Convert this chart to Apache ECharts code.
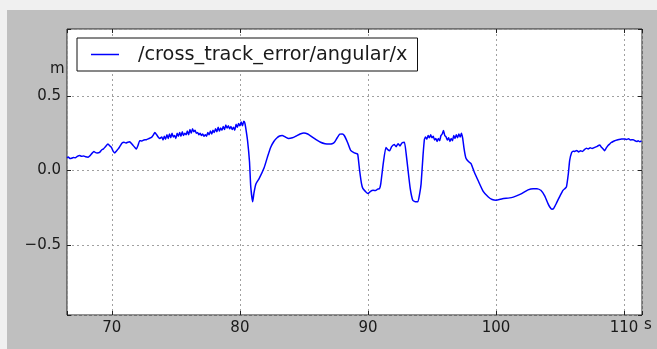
<!DOCTYPE html>
<html>
<head>
<meta charset="utf-8">
<script src="https://cdn.jsdelivr.net/npm/echarts@6/dist/echarts.min.js"></script>
<style>
html,body{margin:0;padding:0;background:#f0f0f0;width:657px;height:349px;overflow:hidden;}
#c{position:absolute;left:7px;top:10px;width:650px;height:339px;background:#bfbfbf;}
</style>
</head>
<body>
<div id="c"></div>
<script>
const seriesName = '/cross_track_error/angular/x';
const xTicks = [70, 80, 90, 100, 110];
const yTicks = [-0.5, 0.0, 0.5];
const times = [
66.5,66.6,66.75,66.85,67.0,67.15,67.3,67.5,67.65,67.8,
67.95,68.15,68.3,68.45,68.6,68.7,68.85,69.05,69.2,69.35,
69.5,69.7,69.85,69.97,70.1,70.23,70.35,70.5,70.65,70.8,
70.95,71.1,71.25,71.4,71.55,71.67,71.8,71.92,72.05,72.18,
72.35,72.5,72.7,72.9,73.1,73.25,73.36,73.5,73.65,73.75,
73.9,74.0,74.1,74.2,74.3,74.4,74.5,74.6,74.7,74.8,
74.9,75.0,75.1,75.2,75.3,75.4,75.5,75.6,75.7,75.8,
75.9,76.0,76.1,76.2,76.3,76.4,76.5,76.6,76.7,76.8,
76.9,77.0,77.1,77.2,77.3,77.4,77.5,77.6,77.7,77.8,
77.9,78.0,78.1,78.2,78.3,78.4,78.5,78.6,78.7,78.8,
78.9,79.0,79.1,79.2,79.3,79.4,79.5,79.6,79.7,79.8,
79.9,80.0,80.1,80.2,80.3,80.38,80.45,80.6,80.75,80.85,
81.0,81.1,81.25,81.5,81.9,82.15,82.4,82.65,82.9,83.1,
83.3,83.55,83.8,84.1,84.4,84.7,85.0,85.3,85.6,85.95,
86.3,86.65,87.0,87.2,87.4,87.6,87.8,88.0,88.15,88.4,
88.65,88.9,89.05,89.2,89.35,89.5,89.6,89.8,90.0,90.2,
90.4,90.6,90.75,90.9,91.0,91.2,91.4,91.55,91.7,91.85,
92.05,92.2,92.35,92.5,92.65,92.85,93.0,93.1,93.3,93.5,
93.7,93.9,94.05,94.15,94.3,94.41,94.5,94.6,94.7,94.8,
94.9,95.0,95.1,95.2,95.3,95.4,95.5,95.6,95.7,95.8,
95.9,96.0,96.1,96.2,96.3,96.4,96.5,96.6,96.7,96.8,
96.9,97.0,97.1,97.2,97.3,97.4,97.5,97.6,97.67,97.85,
98.06,98.3,98.6,99.0,99.4,99.7,100.0,100.5,101.2,101.6,
102.0,102.5,102.9,103.2,103.5,103.8,104.06,104.2,104.37,104.5,
104.7,105.0,105.23,105.4,105.5,105.65,105.75,105.9,106.02,106.15,
106.3,106.45,106.6,106.75,106.9,107.06,107.2,107.35,107.5,107.71,
107.85,108.0,108.1,108.2,108.37,108.49,108.6,108.75,108.88,109.0,
109.15,109.27,109.45,109.6,109.8,110.06,110.2,110.35,110.5,110.71,
110.85,111.0,111.1,111.23,111.36
];
const values = [
0.085,0.09,0.08,0.082,0.088,0.085,0.095,0.1,0.095,0.098,
0.092,0.089,0.1,0.115,0.128,0.122,0.118,0.122,0.138,0.145,
0.16,0.178,0.165,0.155,0.13,0.118,0.13,0.145,0.165,0.185,
0.19,0.185,0.19,0.193,0.18,0.167,0.155,0.145,0.17,0.2,
0.198,0.205,0.207,0.215,0.222,0.24,0.255,0.24,0.222,0.215,
0.225,0.205,0.23,0.21,0.24,0.215,0.245,0.22,0.25,0.225,
0.235,0.215,0.25,0.23,0.255,0.23,0.26,0.235,0.25,0.24,
0.265,0.24,0.275,0.25,0.28,0.26,0.27,0.25,0.255,0.24,
0.25,0.235,0.245,0.23,0.24,0.23,0.255,0.24,0.265,0.245,
0.27,0.255,0.28,0.26,0.29,0.265,0.285,0.27,0.295,0.275,
0.305,0.285,0.3,0.28,0.295,0.275,0.29,0.27,0.31,0.29,
0.315,0.3,0.325,0.3,0.33,0.32,0.29,0.2,0.06,-0.11,
-0.21,-0.15,-0.09,-0.055,0.02,0.09,0.155,0.195,0.22,0.232,
0.235,0.225,0.215,0.22,0.232,0.245,0.252,0.245,0.228,0.208,
0.19,0.18,0.178,0.18,0.192,0.22,0.244,0.245,0.235,0.19,
0.135,0.12,0.115,0.11,0.0,-0.09,-0.12,-0.14,-0.155,-0.14,
-0.133,-0.135,-0.125,-0.122,-0.09,0.05,0.155,0.14,0.133,0.16,
0.175,0.16,0.18,0.165,0.185,0.19,0.1,0.025,-0.12,-0.2,
-0.21,-0.21,-0.15,-0.09,0.1,0.21,0.225,0.21,0.235,0.22,
0.24,0.22,0.23,0.205,0.215,0.195,0.215,0.2,0.235,0.245,
0.268,0.235,0.225,0.205,0.22,0.195,0.215,0.2,0.235,0.215,
0.24,0.22,0.245,0.225,0.25,0.215,0.15,0.1,0.08,0.06,
0.045,-0.01,-0.067,-0.14,-0.178,-0.195,-0.2,-0.19,-0.182,-0.17,
-0.155,-0.13,-0.122,-0.122,-0.133,-0.17,-0.222,-0.245,-0.26,-0.255,
-0.222,-0.17,-0.133,-0.12,-0.11,-0.02,0.067,0.12,0.13,0.128,
0.135,0.125,0.132,0.128,0.14,0.149,0.145,0.152,0.148,0.155,
0.16,0.168,0.171,0.16,0.145,0.133,0.15,0.168,0.178,0.188,
0.195,0.2,0.205,0.208,0.211,0.212,0.208,0.213,0.205,0.207,
0.2,0.195,0.2,0.193,0.198
];
const data = times.map((t, i) => [t, values[i]]);
const FONT = 'DejaVu Sans';
const txt = '#1a1a1a';
function isTick(list, v) { return list.some(t => Math.abs(t - v) < 1e-6); }
const chart = echarts.init(document.getElementById('c'), null, {renderer: 'canvas'});
const gridLine = {show: true, lineStyle: {color: '#a0a0a0', type: [2, 3], width: 1}};
const tick = {show: true, inside: true, length: 4, lineStyle: {color: '#222'}};
chart.setOption({
  animation: false,
  backgroundColor: 'transparent',
  grid: {left: 60, top: 19, right: 15, bottom: 34, show: true, backgroundColor: '#fff', borderColor: '#222', borderWidth: 1},
  legend: {
    left: 70, top: 28, orient: 'horizontal',
    borderColor: '#111', borderWidth: 1, backgroundColor: '#fff', borderRadius: 0,
    padding: [7, 10, 7, 14],
    icon: 'rect', itemWidth: 28, itemHeight: 1.5,
    textStyle: {fontFamily: FONT, fontSize: 19.3, color: txt, padding: [0, 0, 0, 14]},
    data: [seriesName]
  },
  xAxis: [{
    type: 'value', min: 66.5, max: 111.4, splitNumber: 5,
    axisLine: {show: false, onZero: false}, axisTick: tick,
    axisLabel: {margin: 6, fontFamily: FONT, fontSize: 15, color: txt,
      formatter: v => isTick(xTicks, v) ? String(Math.round(v)) : ''},
    splitLine: gridLine
  }, {
    type: 'value', position: 'top', min: 66.5, max: 111.4, splitNumber: 5,
    axisLine: {show: false, onZero: false}, axisTick: tick,
    axisLabel: {show: false}, splitLine: {show: false}
  }],
  yAxis: [{
    type: 'value', min: -0.97, max: 0.95, splitNumber: 4,
    axisLine: {show: false, onZero: false}, axisTick: tick,
    axisLabel: {margin: 6, fontFamily: FONT, fontSize: 15, color: txt,
      formatter: v => isTick(yTicks, v) ? v.toFixed(1).replace('-', '\u2212') : ''},
    splitLine: gridLine
  }, {
    type: 'value', position: 'right', min: -0.97, max: 0.95, splitNumber: 4,
    axisLine: {show: false, onZero: false}, axisTick: tick,
    axisLabel: {show: false}, splitLine: {show: false}
  }],
  graphic: [
    {type: 'text', left: 43, top: 52, style: {text: 'm', fontFamily: FONT, fontSize: 15, fill: txt}},
    {type: 'text', left: 637, top: 308, style: {text: 's', fontFamily: FONT, fontSize: 15, fill: txt}}
  ],
  series: [{
    name: seriesName, type: 'line', data: data, xAxisIndex: 0, yAxisIndex: 0,
    showSymbol: false, symbol: 'none', smooth: 0.15,
    lineStyle: {color: '#0000ff', width: 1.5}, itemStyle: {color: '#0000ff'}
  }]
});
</script>
</body>
</html>
